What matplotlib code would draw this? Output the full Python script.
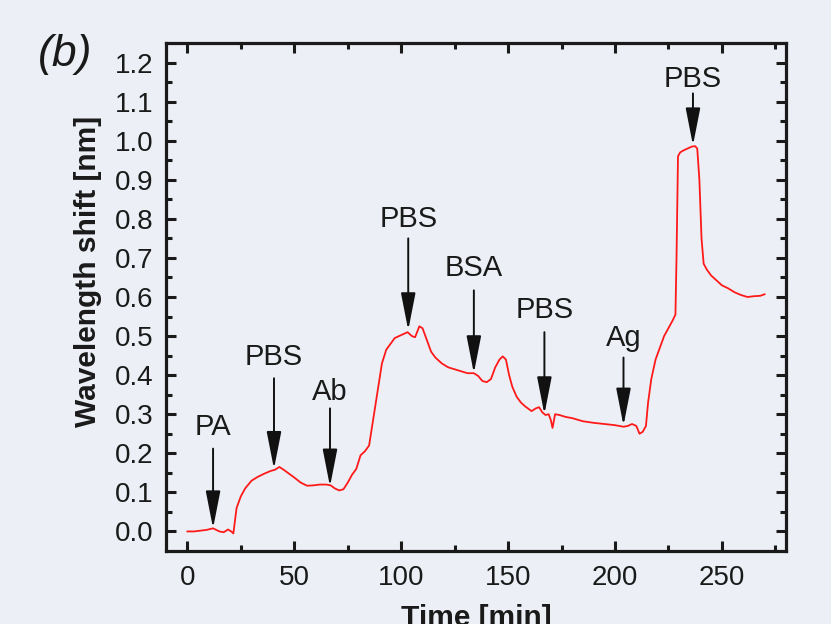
import matplotlib
matplotlib.use('Agg')
import matplotlib.pyplot as plt

# sensor trace
time_min = [
    0, 3, 6, 9, 12, 15, 17, 19, 20.5, 21.5,
    23, 25, 27, 30, 33, 36, 39, 41, 43, 45,
    47, 50, 53, 56, 59, 62, 65, 67, 69, 71,
    73, 75, 77, 79, 81, 83, 85, 87, 89, 91,
    93, 95, 97, 99, 101, 103, 105, 106.5, 108.5, 110,
    112, 114, 116, 119, 122, 125, 128, 131, 134, 136,
    138, 140, 142, 144, 146, 147.5, 149, 150.5, 152, 154,
    156, 158, 161, 163, 164.5, 166, 167.5, 169, 170, 170.8,
    172, 174, 177, 180, 185, 190, 195, 200, 204, 206,
    208, 210, 211.5, 213, 214.5, 215.5, 217, 219, 221, 223,
    225, 227, 228.3, 228.8, 229.5, 230.5, 232, 234, 236, 237.5,
    238.5, 239.5, 240.5, 241.5, 243, 245, 247, 250, 253, 256,
    259, 262, 265, 268, 270]
shift_nm = [
    0.000, 0.000, 0.002, 0.004, 0.008, 0.000, -0.002, 0.005, 0.000, -0.005,
    0.060, 0.090, 0.110, 0.130, 0.140, 0.148, 0.155, 0.158, 0.165, 0.158,
    0.150, 0.138, 0.125, 0.117, 0.118, 0.120, 0.120, 0.118, 0.110, 0.105,
    0.108, 0.125, 0.145, 0.160, 0.195, 0.205, 0.220, 0.290, 0.360, 0.430,
    0.465, 0.480, 0.495, 0.500, 0.505, 0.510, 0.500, 0.497, 0.525, 0.520,
    0.490, 0.460, 0.445, 0.430, 0.420, 0.415, 0.410, 0.405, 0.405, 0.398,
    0.385, 0.382, 0.390, 0.420, 0.440, 0.448, 0.440, 0.400, 0.370, 0.345,
    0.330, 0.320, 0.308, 0.315, 0.318, 0.305, 0.298, 0.300, 0.285, 0.265,
    0.300, 0.298, 0.293, 0.290, 0.282, 0.278, 0.275, 0.272, 0.268, 0.270,
    0.275, 0.270, 0.250, 0.255, 0.270, 0.330, 0.390, 0.440, 0.470, 0.500,
    0.520, 0.540, 0.555, 0.700, 0.960, 0.970, 0.975, 0.980, 0.985, 0.986,
    0.980, 0.900, 0.750, 0.685, 0.670, 0.655, 0.645, 0.630, 0.622, 0.612,
    0.605, 0.600, 0.602, 0.603, 0.607]

# injection markers
step_labels = ['PA', 'PBS', 'Ab', 'PBS', 'BSA', 'PBS', 'Ag', 'PBS']
step_time = [12, 40.5, 66.7, 103.3, 134, 167, 204, 236.5]
arrow_tip = [0.008, 0.160, 0.115, 0.515, 0.405, 0.300, 0.271, 0.988]
arrow_tail = [0.212, 0.392, 0.315, 0.750, 0.617, 0.510, 0.445, 1.121]
label_y = [0.267, 0.446, 0.357, 0.800, 0.673, 0.566, 0.494, 1.159]

bg = '#ecf0f6'
plt.rcParams['font.family'] = ['Liberation Sans', 'DejaVu Sans']

fig = plt.figure(figsize=(8.31, 6.24), dpi=100, facecolor=bg)
ax = fig.add_axes([0.1998, 0.1170, 0.7460, 0.8141], facecolor=bg)

ax.plot(time_min, shift_nm, color='#ff1a1a', lw=1.3)

for lab, t, tip, tail, ly in zip(step_labels, step_time, arrow_tip, arrow_tail, label_y):
    ax.annotate('', xy=(t, tip), xytext=(t, tail),
                arrowprops=dict(arrowstyle='-|>,head_length=2.3,head_width=0.45',
                                color='#111111', lw=1.4, mutation_scale=10,
                                shrinkA=0, shrinkB=0))
    ax.text(t, ly, lab, ha='center', va='center', fontsize=21, color='#1a1a1a')

ax.set_xlim(-10, 280)
ax.set_ylim(-0.05, 1.25)
ax.set_xticks([0, 50, 100, 150, 200, 250])
ax.set_xticks([25, 75, 125, 175, 225, 275], minor=True)
ax.set_yticks([round(0.1 * i, 1) for i in range(13)])
ax.set_yticks([0.05 + 0.1 * i for i in range(12)], minor=True)
ax.set_yticklabels(['%.1f' % (0.1 * i) for i in range(13)])

for s in ax.spines.values():
    s.set_linewidth(2.3)
    s.set_color('#1a1a1a')
ax.tick_params(which='both', direction='in', top=True, right=True, width=2.2, color='#1a1a1a')
ax.tick_params(which='major', length=7, labelsize=20, labelcolor='#1a1a1a')
ax.tick_params(which='minor', length=4.5)
ax.tick_params(axis='y', pad=9)
ax.tick_params(axis='x', pad=10)

ax.set_ylabel('Wavelength shift [nm]', fontsize=21.5, fontweight='bold', color='#1a1a1a')
ax.yaxis.set_label_coords(-0.104, 0.551)
ax.set_xlabel('Time [min]', fontsize=21.5, fontweight='bold', color='#1a1a1a', va='top')
ax.xaxis.set_label_coords(0.5, -0.104)

fig.text(0.0782, 0.9127, '(b)', fontsize=32, style='italic', ha='center', va='center', color='#1a1a1a')

fig.savefig('out.png', dpi=100, facecolor=bg)
